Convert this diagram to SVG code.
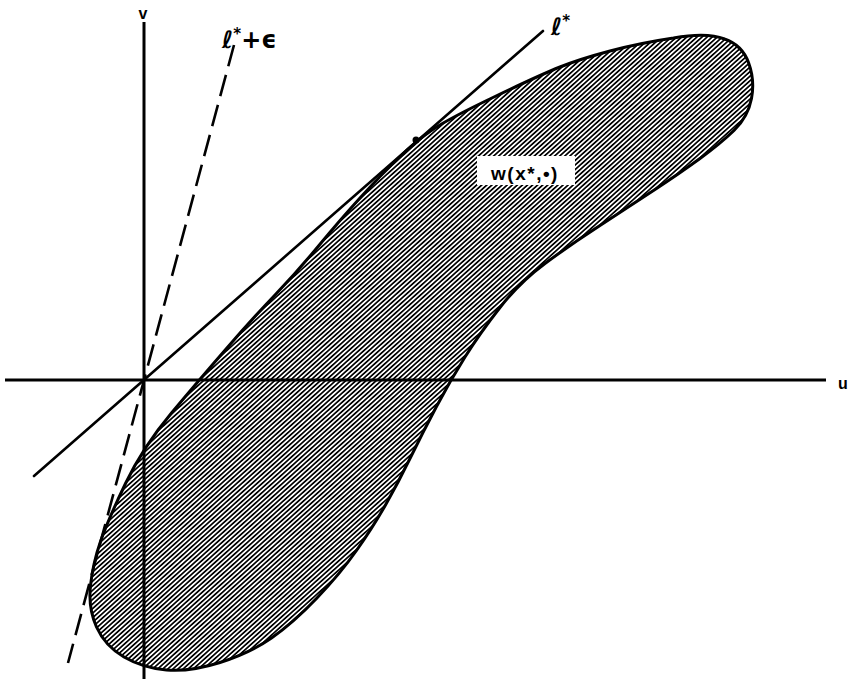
<svg xmlns="http://www.w3.org/2000/svg" width="855" height="679" viewBox="0 0 855 679">
<style>
.ax{stroke:#000;stroke-width:3;fill:none}
.ln{stroke:#000;stroke-width:2.6;fill:none;stroke-linecap:round}
.dash{stroke:#000;stroke-width:2.6;fill:none;stroke-dasharray:22 9}
.lbl{font-family:"Liberation Sans","DejaVu Sans",sans-serif;font-weight:bold;fill:#000}
.scr{font-family:"DejaVu Sans","Liberation Sans",sans-serif;font-style:italic;font-weight:bold;fill:#000}
</style>
<defs>
<pattern id="hatch" patternUnits="userSpaceOnUse" width="3.4" height="10" patternTransform="rotate(48)">
<rect x="0" y="0" width="1.8" height="10" fill="#000" shape-rendering="crispEdges"/>
</pattern>
</defs>
<rect width="855" height="679" fill="#fff"/>
<g id="region">
<path d="M673.5,38 Q707,32 724.5,39 Q742,45 748.5,62.5 Q755,80 751.5,98.5 Q748,117 734,130.5 Q720,144 700,158.5 Q680,173 655,189.5 Q630,206 600,225.5 Q570,245 545,263.5 Q520,282 500,307.5 Q480,333 465,357 Q450,381 436.5,406.5 Q423,432 410.5,457.5 Q398,483 385.5,505 Q373,527 356.5,550.5 Q340,574 316.5,598.5 Q293,623 271.5,638 Q250,653 220,662.5 Q190,672 166.5,670 Q143,668 124,657 Q105,646 96.5,627 Q88,608 90.5,585.5 Q93,563 100.5,541.5 Q108,520 125.5,483.5 Q143,447 171.5,413 Q200,379 226.5,348.5 Q253,318 275,295 Q297,272 318.5,246 Q340,220 360,198 Q380,176 398.5,158 Q417,140 433.5,129 Q450,118 495,96.5 Q540,75 560,67 Q580,59 610,51 Q640,43 673.5,38 Z" fill="url(#hatch)" stroke="#000" stroke-width="3"/>
<rect x="477" y="156" width="98" height="29" fill="#fff"/>
<text class="lbl" x="525" y="180" font-size="19" text-anchor="middle" letter-spacing="1.5">w(x*,•)</text>
</g>
<g id="axes">
<line class="ax" x1="144" y1="22" x2="144" y2="679"/>
<line class="ax" x1="5" y1="380" x2="826" y2="380"/>
<text class="lbl" x="143" y="19" font-size="16" text-anchor="middle">v</text>
<text class="lbl" x="843" y="389" font-size="16" text-anchor="middle">u</text>
</g>
<g id="connectors">
<line id="lstar" class="ln" x1="34" y1="476" x2="543" y2="31"/>
<line id="lstar-eps" class="dash" x1="234" y1="45" x2="68" y2="663"/>
<circle cx="416" cy="140" r="3.5" fill="#000"/>
</g>
<g id="labels">
<text class="scr" x="222" y="48" font-size="24">ℓ<tspan dy="-9" font-size="15">*</tspan><tspan dy="9" font-style="normal">+ϵ</tspan></text>
<text class="scr" x="551" y="35" font-size="24">ℓ<tspan dy="-9" font-size="15">*</tspan></text>
</g>
</svg>
